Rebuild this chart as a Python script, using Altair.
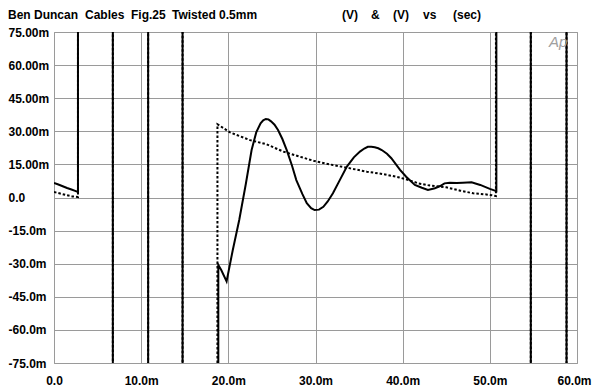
import altair as alt
import pandas as pd

# ---- data (time in ms, level in mV); +/-150 = off-scale (clipped) ----
solid_t = [0, 0.5, 1.0, 1.5, 2.0, 2.5, 2.75, 2.75, 6.75, 6.75, 10.8, 10.8, 14.75, 14.75,
           18.85, 18.85, 19.2, 19.8, 20.5, 21.25, 22.0, 22.67, 23.2, 23.7, 24.0, 24.3, 24.6,
           24.9, 25.3, 25.7, 26.2, 26.7, 27.3, 27.8, 28.5, 29.0, 29.5, 29.9, 30.4, 30.9,
           31.4, 32.0, 32.8, 33.6, 34.4, 35.1, 35.6, 36.0, 36.4, 36.8, 37.2, 37.6, 38.2,
           38.7, 39.7, 40.4, 41.4, 42.2, 42.9, 43.7, 44.3, 44.8, 45.4, 46.2, 46.9, 47.9,
           48.9, 50.0, 50.75, 50.75, 54.7, 54.7, 58.8, 58.8, 60]
solid_v = [6.6, 5.9, 5.1, 4.3, 3.6, 2.9, 2.5, 150, 150, -150, -150, 150, 150, -150,
           -150, -30.6, -33, -38, -24, -10.2, 6, 21.5, 29.5, 33.6, 35.0, 35.6, 35.4,
           34.5, 33.0, 30.6, 26.5, 21.5, 14.5, 7.9, 1.5, -2.6, -4.8, -5.7, -5.5, -4.2,
           -1.8, 1.9, 8.0, 14.0, 18.2, 20.8, 22.2, 23.0, 23.0, 22.8, 22.3, 21.5, 19.8,
           17.8, 12.5, 9.4, 5.7, 4.4, 3.4, 4.2, 5.2, 6.4, 6.7, 6.6, 6.7, 6.9,
           5.7, 3.9, 2.9, 150, 150, -150, -150, 150, 150]

dotted_t = [0, 0.7, 1.4, 2.1, 2.75, 2.75, 6.75, 6.75, 10.8, 10.8, 14.75, 14.75, 18.75, 18.75,
            20.2, 22.5, 24.4, 26.3, 28.2, 29.9, 32.0, 34.0, 35.9, 37.8, 39.6, 40.7, 41.8,
            43.0, 45.0, 46.6, 48.1, 49.6, 50.7, 50.7, 54.7, 54.7, 58.8, 58.8, 60]
dotted_v = [2.5, 1.8, 1.1, 0.5, 0.2, 150, 150, -150, -150, 150, 150, -150, -150, 33.2,
            29.5, 26, 24.1, 20.8, 18.5, 16.5, 14.7, 13.2, 11.7, 10.6, 9.1, 7.9, 6.4,
            5.5, 4.6, 3.1, 1.9, 1.4, 0.7, 150, 150, -150, -150, 150, 150]

x_ticks = [0, 10, 20, 30, 40, 50, 60]
x_labels = ["0.0", "10.0m", "20.0m", "30.0m", "40.0m", "50.0m", "60.0m"]
y_ticks = [75, 60, 45, 30, 15, 0, -15, -30, -45, -60, -75]
y_labels = ["75.00m", "60.00m", "45.00m", "30.00m", "15.00m", "0.0",
            "-15.0m", "-30.0m", "-45.0m", "-60.0m", "-75.0m"]

header_words = ["Ben Duncan", "Cables", "Fig.25", "Twisted 0.5mm",
                "(V)", "&", "(V)", "vs", "(sec)"]
logo = "Ap"

FONT = "Liberation Sans"
GRID = "#9a9a9a"


def label_expr(vals, labels):
    expr = "''"
    for v, l in reversed(list(zip(vals, labels))):
        expr = f"datum.value == {v} ? '{l}' : ({expr})"
    return expr


solid_df = pd.DataFrame({"t": solid_t, "v": solid_v, "i": range(len(solid_t))})
dotted_df = pd.DataFrame({"t": dotted_t, "v": dotted_v, "i": range(len(dotted_t))})

x_enc = alt.X("t:Q",
              scale=alt.Scale(domain=[0, 60], nice=False, zero=False),
              axis=alt.Axis(values=x_ticks, labelExpr=label_expr(x_ticks, x_labels),
                            ticks=False, tickSize=0, domain=False, grid=True,
                            labelFlush=False, labelOverlap=False, labelPadding=12,
                            labelOffset={"condition": {"test": "datum.value == 60", "value": -3},
                                         "value": 0},
                            title=None))
y_enc = alt.Y("v:Q",
              scale=alt.Scale(domain=[-75, 75], nice=False, zero=False),
              axis=alt.Axis(values=y_ticks, labelExpr=label_expr(y_ticks, y_labels),
                            ticks=False, tickSize=0, domain=False, grid=True,
                            labelAlign="left", labelBaseline="middle",
                            labelFlush=False, labelOverlap=False, labelPadding=46,
                            title=None))

dotted = alt.Chart(dotted_df).mark_line(
    clip=True, color="black", strokeWidth=2, strokeDash=[2.5, 2]
).encode(x=x_enc, y=y_enc, order="i:Q")

solid = alt.Chart(solid_df).mark_line(
    clip=True, color="black", strokeWidth=2
).encode(x=x_enc, y=y_enc, order="i:Q")

# header: each word placed as its own text mark (pixel offsets relative to plot area)
header_x = [-46, 31, 77, 118, 288, 317, 339, 369, 399]
header_layers = []
for word, hx in zip(header_words, header_x):
    header_layers.append(
        alt.Chart(pd.DataFrame({"txt": [word]})).mark_text(
            align="left", baseline="alphabetic", font=FONT, fontSize=12,
            fontWeight="bold", color="black"
        ).encode(x=alt.value(hx), y=alt.value(-13), text="txt:N")
    )

ap = alt.Chart(pd.DataFrame({"txt": [logo]})).mark_text(
    align="left", baseline="alphabetic", font=FONT, fontSize=15, fontStyle="italic",
    fontWeight="normal", color="#a0a0a0"
).encode(x=alt.value(495), y=alt.value(15), text="txt:N")

chart = alt.layer(dotted, solid, *header_layers, ap).properties(
    width=523, height=331,
    autosize=alt.AutoSizeParams(type="none"),
    padding={"left": 46, "top": 24, "right": 15, "bottom": 25},
    background="white",
).configure_view(
    stroke=GRID, strokeWidth=1
).configure_axis(
    labelFont=FONT, labelFontSize=12, labelFontWeight="bold", labelColor="black",
    gridColor=GRID, gridWidth=1, gridOpacity=1
)

chart.save("out.html", embed_options={"renderer": "svg", "actions": False})
